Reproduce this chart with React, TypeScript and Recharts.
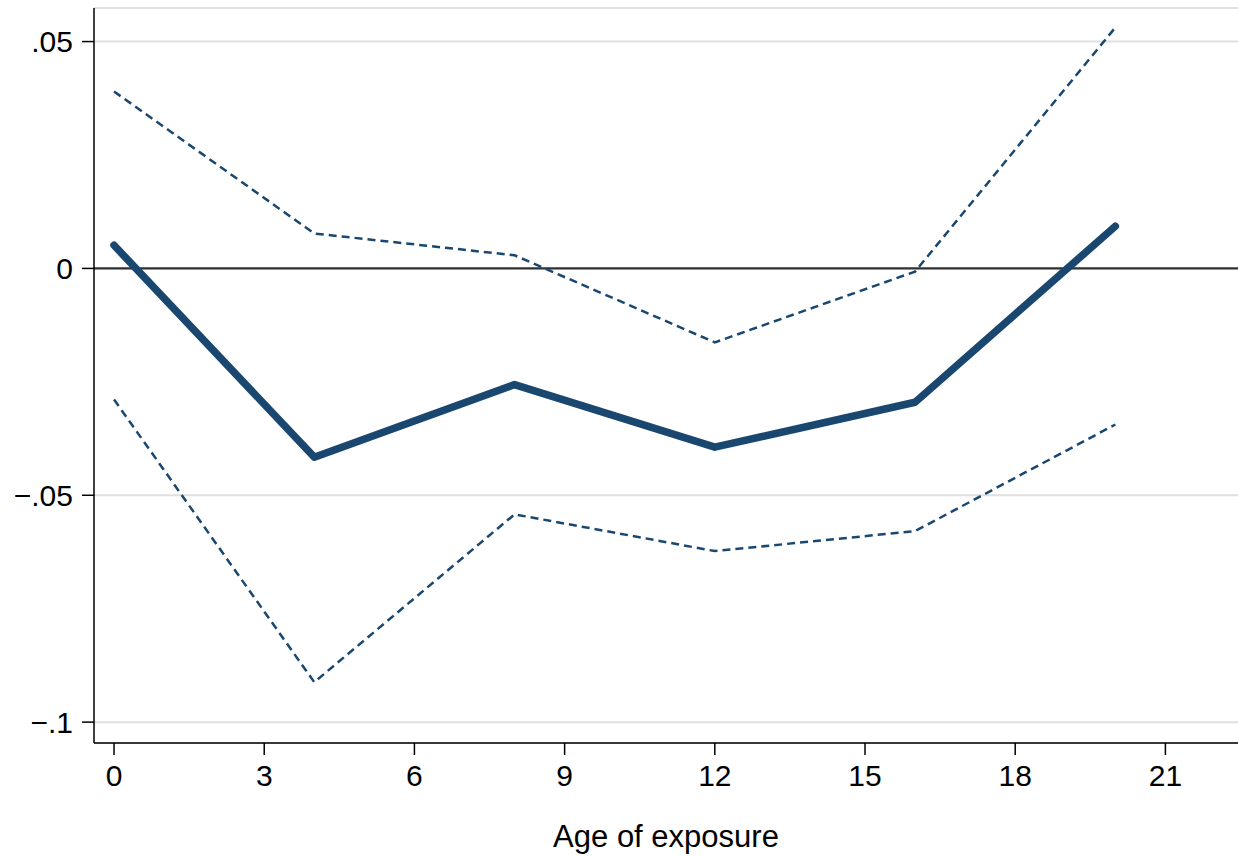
import React from "react";
import { LineChart, Line, XAxis, YAxis, CartesianGrid, ReferenceLine } from "recharts";

const ages = [0, 4, 8, 12, 16, 20];
const estimate = [0.0051, -0.0416, -0.0256, -0.0394, -0.0295, 0.0093];
const upper = [0.039, 0.0077, 0.0029, -0.0163, -0.0007, 0.0531];
const lower = [-0.0289, -0.0912, -0.0542, -0.0623, -0.0579, -0.0344];

const xTicks = [0, 3, 6, 9, 12, 15, 18, 21];
const yTicks = [-0.1, -0.05, 0, 0.05];
const yLabels: Record<string, string> = { "-0.1": "\u2212.1", "-0.05": "\u2212.05", "0": "0", "0.05": ".05" };

const data = ages.map((a, i) => ({ age: a, est: estimate[i], hi: upper[i], lo: lower[i] }));

const NAVY = "#1a476f";
const FONT = "'Liberation Sans', Arial, Helvetica, sans-serif";

export default function App() {
  return (
    <div style={{ position: "absolute", left: 0, top: 0, background: "#fff" }}>
      <LineChart width={1238} height={856} data={data} margin={{ top: 8, right: 0, left: 0, bottom: 0 }}>
        <CartesianGrid horizontal vertical={false} stroke="#e0e0e0" strokeWidth={2} />
        <XAxis
          dataKey="age"
          type="number"
          domain={[-0.4, 22.45]}
          ticks={xTicks}
          allowDataOverflow
          height={113}
          tickSize={12}
          tickMargin={10}
          stroke="#000"
          strokeWidth={1.5}
          tick={{ fill: "#000", fontSize: 30, fontFamily: FONT }}
          label={{ value: "Age of exposure", position: "insideBottom", offset: 9, fill: "#000", fontSize: 31, fontFamily: FONT }}
        />
        <YAxis
          type="number"
          domain={[-0.1046, 0.0574]}
          ticks={yTicks}
          allowDataOverflow
          width={94}
          tickSize={12}
          tickMargin={9}
          stroke="#000"
          strokeWidth={1.5}
          tickFormatter={(v: number) => yLabels[String(v)] ?? String(v)}
          tick={{ fill: "#000", fontSize: 30, fontFamily: FONT }}
        />
        <ReferenceLine y={0} stroke="#333" strokeWidth={2.3} />
        <Line dataKey="hi" stroke={NAVY} strokeWidth={2.5} strokeDasharray="8 5" dot={false} isAnimationActive={false} />
        <Line dataKey="lo" stroke={NAVY} strokeWidth={2.5} strokeDasharray="8 5" dot={false} isAnimationActive={false} />
        <Line dataKey="est" stroke={NAVY} strokeWidth={7.5} strokeLinecap="round" strokeLinejoin="round" dot={false} isAnimationActive={false} />
      </LineChart>
    </div>
  );
}
